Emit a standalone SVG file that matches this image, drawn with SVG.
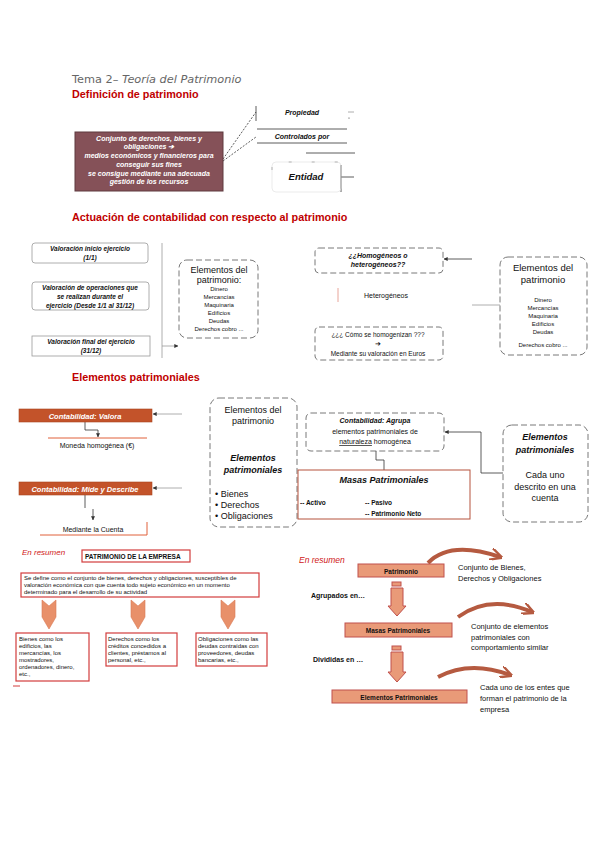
<svg xmlns="http://www.w3.org/2000/svg" width="600" height="848" viewBox="0 0 600 848">
<defs>
<style>
text{font-family:"Liberation Sans",Arial,sans-serif;fill:#111}
.ttl{font-size:10.8px;font-weight:bold;fill:#c00000}
.tema{font-size:11.3px;fill:#666;font-family:"DejaVu Sans","Liberation Sans",sans-serif}
.bi{font-weight:bold;font-style:italic}
.c{text-anchor:middle}
.wt{fill:#fff}
.s6{font-size:6px}
.s65{font-size:6.5px}
.s7{font-size:7px}
.s75{font-size:7.5px}
.s9{font-size:9px}
.s95{font-size:9.5px}
.dash{fill:#fff;stroke:#555;stroke-width:0.8;stroke-dasharray:6 3}
.ln{fill:none;stroke:#333;stroke-width:0.8}
.gl{fill:none;stroke:#999;stroke-width:0.8}
.orng{fill:#c3532a;stroke:#a8451f;stroke-width:0.6}
.redbox{fill:#fff;stroke:#d23c3c;stroke-width:1.2}
.salm{fill:#e99a78;stroke:#c0504d;stroke-width:1}
.curv{fill:none;stroke:#b55a40;stroke-width:4}
</style>
<marker id="ah" viewBox="0 0 6 6" refX="5.5" refY="3" markerWidth="5" markerHeight="5" orient="auto"><path d="M0,0 L6,3 L0,6 z" fill="#333"/></marker>
<marker id="ca" viewBox="0 0 10 10" refX="8" refY="5" markerWidth="3" markerHeight="3" orient="auto"><path d="M0,0 L10,5 L0,10" fill="none" stroke="#b55a40" stroke-width="2"/></marker>
</defs>
<rect width="600" height="848" fill="#fff"/>

<!-- Section 1 -->
<g id="titles">
<text x="72" y="83" class="tema">Tema 2– <tspan font-style="italic">Teoría del Patrimonio</tspan></text>
<text x="72" y="98" class="ttl">Definición de patrimonio</text>
<text x="72" y="221" class="ttl">Actuación de contabilidad con respecto al patrimonio</text>
<text x="72" y="381" class="ttl">Elementos patrimoniales</text>
</g>

<g id="connectors">
<path d="M223,159 L256,112" class="ln" stroke-dasharray="2 1.5"/>
<path d="M223,161 L256,137" class="ln" stroke-dasharray="2 1.5"/>
<path d="M256,106 V121" class="ln"/>
<path d="M348,112 H354" class="gl"/>
<path d="M257,129 H347 M257,143 H347" class="ln"/>
<path d="M306,153 H355" class="ln"/>
<path d="M341,165 V192 M341,177 H354" class="ln"/>
<path d="M162,243 V358" class="gl"/>
<path d="M162,346 H178" class="gl" marker-end="url(#ah)"/>
<path d="M472,259 H444" class="ln" marker-end="url(#ah)"/>
<path d="M338,288 V302" stroke="#e8a59a" stroke-width="1"/>
<path d="M472,305 H500" class="gl"/>
<path d="M182,414 H153" class="gl" marker-end="url(#ah)"/>
<path d="M85,422 V430 H98 V437" class="ln" stroke-width="1.2" marker-end="url(#ah)"/>
<path d="M182,488 H153" class="gl" marker-end="url(#ah)"/>
<path d="M85,495 V508" class="ln" stroke-width="1.4"/>
<path d="M93,509 V520" class="ln" marker-end="url(#ah)"/>
<path d="M253,431 V448" class="ln" marker-end="url(#ah)"/>
<path d="M376,451 V460 H384 V470" class="ln" stroke-width="1.2"/>
<path d="M503,473 H481 V432 H445" class="ln" marker-end="url(#ah)"/>
<path d="M428,563 Q450,540 500,557" class="curv" marker-end="url(#ca)"/>
<path d="M458,617 Q490,594 532,612" class="curv" marker-end="url(#ca)"/>
<path d="M438,677 Q470,660 510,675" class="curv" marker-end="url(#ca)"/>
</g>

<g id="definicion">
<rect x="75" y="132" width="148" height="59" fill="#855158" stroke="#5e3a3f" stroke-width="1"/>
<text class="bi s7 c wt" x="149" y="141">Conjunto de derechos, bienes  y</text>
<text class="bi s7 c wt" x="149" y="149">obligaciones ➔</text>
<text class="bi s7 c wt" x="149" y="158">medios económicos y financieros para</text>
<text class="bi s7 c wt" x="149" y="167">conseguir sus fines</text>
<text class="bi s7 c wt" x="149" y="176">se consigue mediante una adecuada</text>
<text class="bi s7 c wt" x="149" y="184">gestión de los recursos</text>
</g>
<g id="propiedad"><text class="bi s7 c" x="302" y="115">Propiedad</text><circle cx="349" cy="118" r="0.6" fill="#333"/></g>
<g id="controlados"><text class="bi s7 c" x="302" y="139">Controlados por</text></g>
<g id="entidad">
<rect x="272" y="162" width="69" height="30" rx="4" fill="none" stroke="#e2e2e2" stroke-width="0.7"/>
<path d="M272,170 V166 Q272,162 276,162 H337 Q341,162 341,166" fill="none" stroke="#888" stroke-width="0.6" stroke-dasharray="3 20"/>
<text class="bi s95 c" x="306" y="180">Entidad</text>
</g>

<!-- Section 2 -->
<g id="val-inicio">
<rect x="32" y="243" width="116" height="20" rx="3" class="gl" stroke="#777"/>
<text class="bi s65 c" x="90" y="251">Valoración inicio ejercicio</text>
<text class="bi s65 c" x="90" y="260">(1/1)</text>
</g>
<g id="val-operaciones">
<rect x="32" y="282" width="117" height="28" rx="3" class="gl" stroke="#777"/>
<text class="bi s65 c" x="90" y="290">Valoración de operaciones que</text>
<text class="bi s65 c" x="90" y="299">se realizan durante el</text>
<text class="bi s65 c" x="90" y="308">ejercicio (Desde 1/1 al 31/12)</text>
</g>
<g id="val-final">
<rect x="32" y="336" width="118" height="20" class="gl" stroke="#555"/>
<text class="bi s65 c" x="91" y="344">Valoración final del ejercicio</text>
<text class="bi s65 c" x="91" y="353">(31/12)</text>
</g>
<g id="elementos-1">
<rect x="179" y="260" width="79" height="78" rx="8" class="dash"/>
<text class="s9 c" x="219" y="273">Elementos del</text>
<text class="s9 c" x="219" y="283">patrimonio:</text>
<text class="s6 c" x="219" y="291">Dinero</text>
<text class="s6 c" x="219" y="299">Mercancías</text>
<text class="s6 c" x="219" y="307">Maquinaria</text>
<text class="s6 c" x="219" y="315">Edificios</text>
<text class="s6 c" x="219" y="323">Deudas</text>
<text class="s6 c" x="219" y="331">Derechos cobro ...</text>
</g>
<g id="homogeneos">
<rect x="315" y="248" width="128" height="25" rx="4" class="dash" stroke="#333"/>
<text class="bi s7 c" x="378" y="258">¿¿Homogéneos o</text>
<text class="bi s7 c" x="378" y="267">heterogéneos??</text>
</g>
<g id="heterogeneos"><text class="s7 c" x="386" y="298">Heterogéneos</text></g>
<g id="homogenizan">
<rect x="315" y="327" width="128" height="33" rx="4" class="dash" stroke="#333"/>
<text class="s65 c" x="378" y="337">¿¿¿ Cómo se homogenizan ???</text>
<text class="s7 c" x="378" y="346">➔</text>
<text class="s65 c" x="378" y="356">Mediante su valoración en Euros</text>
</g>
<g id="elementos-2">
<rect x="500" y="257" width="87" height="98" rx="8" class="dash"/>
<text class="s95 c" x="543" y="271">Elementos del</text>
<text class="s95 c" x="543" y="283">patrimonio</text>
<text class="s6 c" x="543" y="302">Dinero</text>
<text class="s6 c" x="543" y="310">Mercancías</text>
<text class="s6 c" x="543" y="318">Maquinaria</text>
<text class="s6 c" x="543" y="326">Edificios</text>
<text class="s6 c" x="543" y="334">Deudas</text>
<text class="s6 c" x="543" y="347">Derechos cobro ...</text>
</g>

<!-- Section 3 -->
<g id="valora">
<rect x="19" y="409" width="133" height="13" class="orng"/>
<text class="bi s75 c wt" x="85" y="418.5">Contabilidad: Valora</text>
</g>
<g id="moneda">
<path d="M48,438 H147" stroke="#e0603a" stroke-width="1"/>
<text class="s7 c" x="97" y="448">Moneda homogénea (€)</text>
</g>
<g id="mide">
<rect x="19" y="482" width="133" height="13" class="orng"/>
<text class="bi s75 c wt" x="85" y="491.5">Contabilidad: Mide y Describe</text>
</g>
<g id="cuenta">
<path d="M40,535 H147 V522" fill="none" stroke="#e0603a" stroke-width="1"/>
<text class="s7 c" x="93" y="532">Mediante la Cuenta</text>
</g>
<g id="elementos-3">
<rect x="210" y="398" width="87" height="129" rx="9" class="dash" stroke="#333"/>
<text class="s9 c" x="253" y="413">Elementos del</text>
<text class="s9 c" x="253" y="424">patrimonio</text>
<text class="bi s9 c" x="253" y="461">Elementos</text>
<text class="bi s9 c" x="253" y="473">patrimoniales</text>
<text class="s9" x="215" y="497">• Bienes</text>
<text class="s9" x="215" y="508">• Derechos</text>
<text class="s9" x="215" y="519">• Obligaciones</text>
</g>
<g id="agrupa">
<rect x="306" y="413" width="138" height="38" rx="5" class="dash" stroke="#333"/>
<text class="bi s7 c" x="375" y="423">Contabilidad: Agrupa</text>
<text class="s7 c" x="375" y="434">elementos patrimoniales de</text>
<text class="s7 c" x="375" y="444"><tspan text-decoration="underline">naturaleza</tspan> homogénea</text>
</g>
<g id="masas">
<rect x="298" y="470" width="172" height="49" fill="#fff" stroke="#b5533c" stroke-width="1"/>
<text class="bi s9 c" x="384" y="483">Masas Patrimoniales</text>
<text class="s65" x="300" y="505" font-weight="bold">-- Activo</text>
<text class="s65" x="365" y="505" font-weight="bold">-- Pasivo</text>
<text class="s65" x="365" y="516" font-weight="bold">-- Patrimonio Neto</text>
</g>
<g id="elementos-pat">
<rect x="503" y="425" width="85" height="97" rx="9" class="dash" stroke="#333"/>
<text class="bi s9 c" x="545" y="440">Elementos</text>
<text class="bi s9 c" x="545" y="453">patrimoniales</text>
<text class="s9 c" x="545" y="478">Cada uno</text>
<text class="s9 c" x="545" y="490">descrito en una</text>
<text class="s9 c" x="545" y="501">cuenta</text>
</g>

<!-- Section 4 left -->
<g id="resumen-1">
<text x="22" y="555" font-size="8px" font-style="italic" style="fill:#d02020">En resumen</text>
<rect x="82" y="550" width="108" height="12" class="redbox"/>
<text class="s65" x="85" y="559" font-weight="bold">PATRIMONIO DE LA EMPRESA</text>
</g>
<g id="definicion-empresa">
<rect x="21" y="573" width="238" height="24" class="redbox"/>
<text class="s6" x="24" y="580">Se define como el conjunto de bienes, derechos y obligaciones, susceptibles de</text>
<text class="s6" x="24" y="587">valoración económica con que cuenta todo sujeto económico en un momento</text>
<text class="s6" x="24" y="594">determinado para el desarrollo de su actividad</text>
</g>
<g id="flechas-abajo" fill="#e8906a" stroke="#d97a55" stroke-width="0.6">
<polygon points="42,600 49,606 56,600 56,617 49,629 42,617"/>
<polygon points="131,600 138,606 145,600 145,617 138,629 131,617"/>
<polygon points="221,600 228,606 235,600 235,617 228,629 221,617"/>
</g>
<g id="bienes">
<rect x="16" y="633" width="73" height="48" class="redbox"/>
<text class="s6" x="19" y="641">Bienes como los</text>
<text class="s6" x="19" y="648">edificios, las</text>
<text class="s6" x="19" y="655">mercancías, los</text>
<text class="s6" x="19" y="662">mostradores,</text>
<text class="s6" x="19" y="669">ordenadores, dinero,</text>
<text class="s6" x="19" y="676">etc.,</text>
</g>
<g id="derechos">
<rect x="106" y="633" width="71" height="33" class="redbox"/>
<text class="s6" x="108" y="641">Derechos como los</text>
<text class="s6" x="108" y="648">créditos concedidos a</text>
<text class="s6" x="108" y="655">clientes, préstamos al</text>
<text class="s6" x="108" y="662">personal, etc.,</text>
</g>
<g id="obligaciones">
<rect x="196" y="633" width="71" height="33" class="redbox"/>
<text class="s6" x="198" y="641">Obligaciones como las</text>
<text class="s6" x="198" y="648">deudas contraídas con</text>
<text class="s6" x="198" y="655">proveedores, deudas</text>
<text class="s6" x="198" y="662">bancarias, etc.,</text>
</g>
<path d="M13,686 H20" stroke="#d23c3c" stroke-width="1"/>

<!-- Section 4 right -->
<g id="resumen-2">
<text x="299" y="563" font-size="8.5px" font-style="italic" style="fill:#d02020">En resumen</text>
</g>
<g id="patrimonio">
<rect x="358" y="564" width="86" height="13" class="salm"/>
<text class="s65 c" x="401" y="573.5" font-weight="bold">Patrimonio</text>
<text class="s75" x="458" y="570">Conjunto de Bienes,</text>
<text class="s75" x="458" y="581">Derechos y Obligaciones</text>
</g>
<g id="flecha-1" class="salm">
<rect x="392" y="582" width="9" height="4"/>
<polygon points="391,588 403,588 403,606 406,606 397,616 388,606 391,606"/>
</g>
<text class="s7" x="311" y="598" font-weight="bold">Agrupados en…</text>
<g id="masas-2">
<rect x="345" y="623" width="107" height="14" class="salm"/>
<text class="s65 c" x="398" y="633" font-weight="bold">Masas Patrimoniales</text>
<text class="s75" x="471" y="629">Conjunto de elementos</text>
<text class="s75" x="471" y="640">patrimoniales con</text>
<text class="s75" x="471" y="650">comportamiento similar</text>
</g>
<g id="flecha-2" class="salm">
<rect x="392" y="646" width="9" height="4"/>
<polygon points="391,652 403,652 403,672 406,672 397,682 388,672 391,672"/>
</g>
<text class="s7" x="313" y="662" font-weight="bold">Divididas en …</text>
<g id="elementos-4">
<rect x="332" y="690" width="135" height="13" class="salm"/>
<text class="s65 c" x="399" y="699.5" font-weight="bold">Elementos Patrimoniales</text>
<text class="s75" x="480" y="690">Cada uno de los entes que</text>
<text class="s75" x="480" y="701">forman el patrimonio de la</text>
<text class="s75" x="480" y="712">empresa</text>
</g>
</svg>
